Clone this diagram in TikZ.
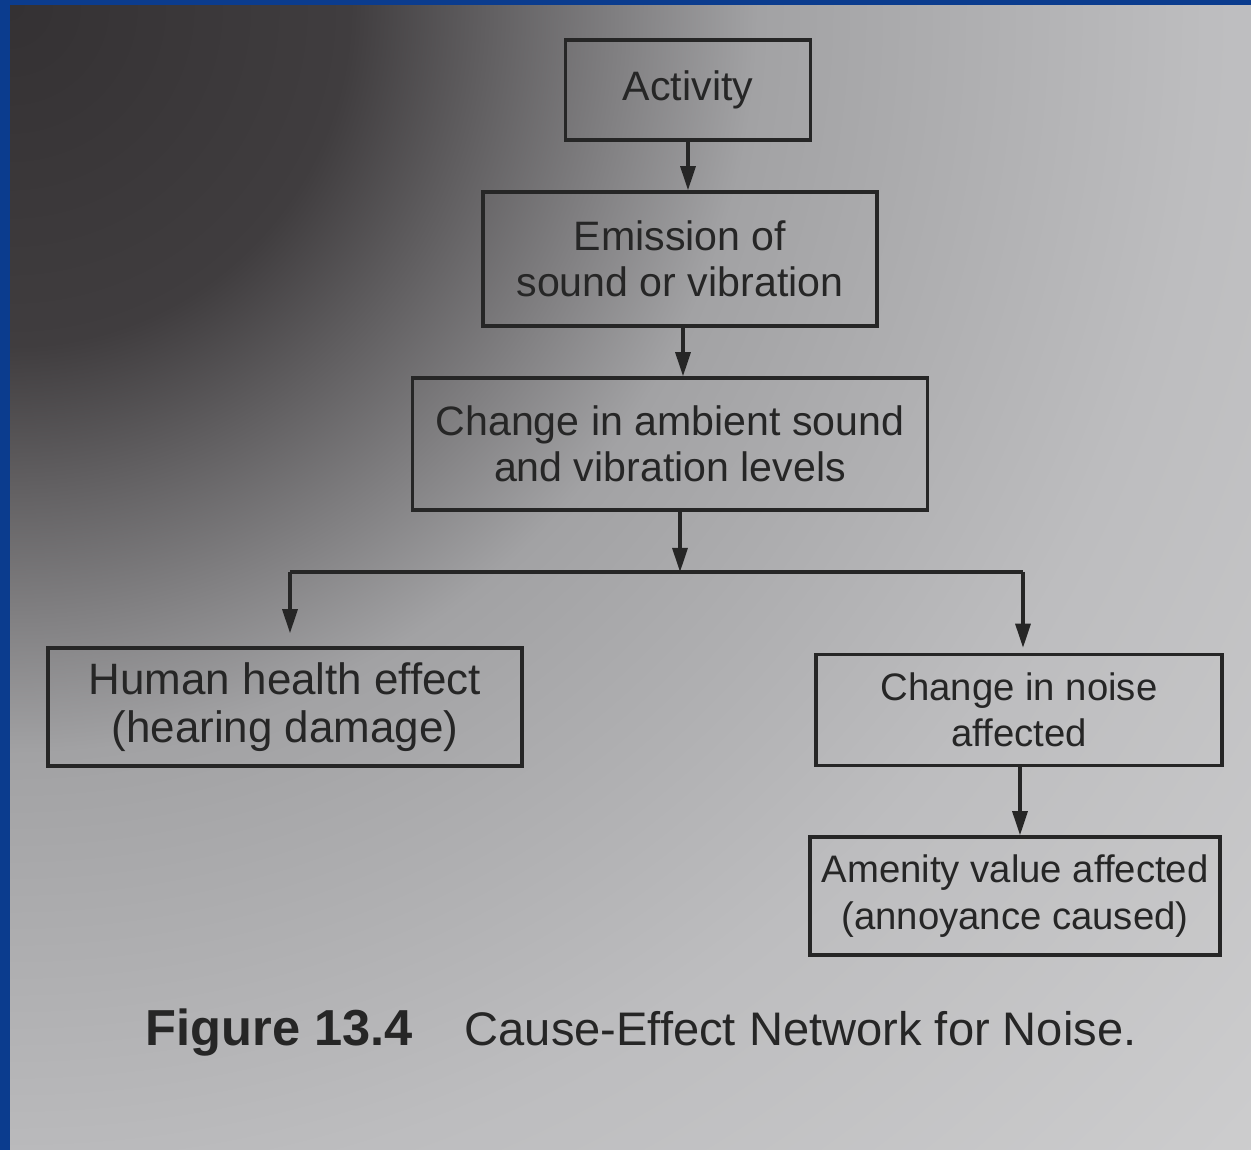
\documentclass[tikz,border=0pt]{standalone}
\usepackage{fontspec}
\setmainfont{Liberation Sans}
\usetikzlibrary{arrows.meta,positioning,calc}
\definecolor{slideblue}{HTML}{0B3C8E}
\definecolor{ink}{HTML}{262626}
\definecolor{pagedark}{HTML}{343133}
\definecolor{pageshade}{HTML}{403D3F}
\definecolor{pagemid}{HTML}{A2A2A4}
\definecolor{pagelow}{HTML}{BDBDBF}
\definecolor{pagelight}{HTML}{CDCDCE}
% the photo is dark in the upper left corner
\pgfdeclareradialshading{pagecorner}{\pgfpoint{0bp}{0bp}}{%
  color(0bp)=(pagedark); color(5bp)=(pageshade); color(11bp)=(pagemid);
  color(17.6bp)=(pagelow); color(25bp)=(pagelight); color(50bp)=(pagelight)}
\tikzset{
  >={Triangle[length=2.4mm,width=1.5mm]},
  % rutor
  cbox/.style={draw=ink,line width=1pt,text=ink,align=center,inner xsep=0pt,
               inner ysep=2pt,font=\fontsize{11.7}{13.2}\selectfont},
  farbox/.style={cbox,font=\fontsize{10.9}{13.2}\selectfont},
  nearbox/.style={cbox,font=\fontsize{12.5}{13.6}\selectfont},
  % pilar
  flow/.style={->,draw=ink,line width=0.9pt},
  trunk/.style={draw=ink,line width=0.9pt},
  figcap/.style={text=ink,font=\fontsize{13.4}{15}\selectfont,inner sep=0pt},
}
\begin{document}
\begin{tikzpicture}
  \useasboundingbox (0,0) rectangle (12.51,11.50);
  \fill[slideblue] (0,0) rectangle (12.51,11.50);
  \begin{scope}
    \clip (0.10,0) rectangle (12.51,11.44);
    \shade[shading=pagecorner] (0.10,11.44) circle (17cm);
  \end{scope}
  \node[cbox,minimum width=2.45cm,minimum height=1.00cm] (act) at (6.88,10.60) {Activity};
  \node[cbox,minimum width=3.94cm,minimum height=1.34cm] (emi) at (6.80,8.91)
    {Emission of\\sound or vibration};
  \node[cbox,minimum width=5.15cm,minimum height=1.32cm] (amb) at (6.70,7.06)
    {Change in ambient sound\\and vibration levels};
  \node[nearbox,minimum width=4.74cm,minimum height=1.18cm] (hum) at (2.85,4.43)
    {Human health effect\\(hearing damage)};
  \node[farbox,minimum width=4.06cm,minimum height=1.11cm] (noi) at (10.19,4.40)
    {Change in noise\\affected};
  \node[farbox,minimum width=4.10cm,minimum height=1.18cm] (ame) at (10.15,2.54)
    {Amenity value affected\\(annoyance caused)};
  \coordinate (split) at (6.80,5.78);
  \coordinate (lft) at (2.90,5.78);
  \coordinate (rgt) at (10.23,5.78);
  \draw[flow] (act.south) -- (emi.north -| act.south);
  \draw[flow] (emi.south -| 6.83,0) -- (amb.north -| 6.83,0);
  \draw[flow] (amb.south -| split) -- (split);
  \draw[trunk] (lft) -- (rgt);
  \draw[flow,shorten >=1.3mm] (lft) -- (hum.north -| lft);
  \draw[flow,shorten >=0.5mm] (rgt) -- (noi.north -| rgt);
  \draw[flow] (noi.south -| 10.20,0) -- (ame.north -| 10.20,0);
  \node[figcap] (fig) at (6.41,1.17)
    {\textbf{\fontsize{14.4}{15}\selectfont Figure 13.4}\hspace{0.52cm}Cause-Effect Network for Noise.};
\end{tikzpicture}
\end{document}
